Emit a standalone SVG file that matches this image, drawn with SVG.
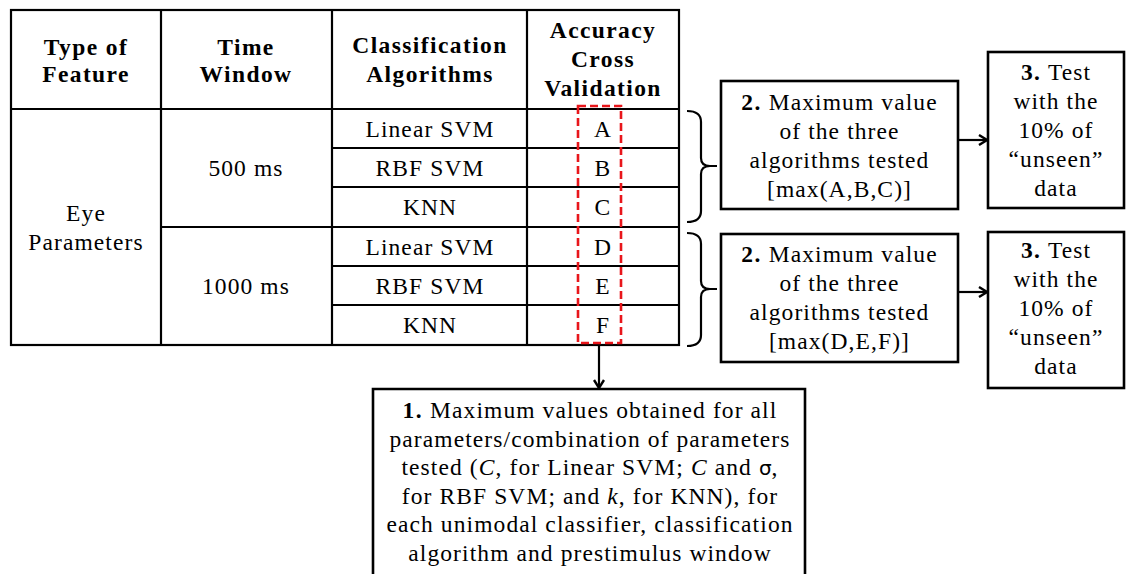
<svg xmlns="http://www.w3.org/2000/svg" width="1126" height="574" viewBox="0 0 1126 574">
<style>
text{font-family:'Liberation Serif','Times New Roman',serif;font-size:23.5px;fill:#000;text-anchor:middle;letter-spacing:1.1px}
.b{font-weight:bold;letter-spacing:1.4px}
.g{stroke:#000;stroke-width:2.2;fill:none}
.box{stroke:#000;stroke-width:2.6;fill:#fff}
.red{stroke:#e8161b;stroke-width:2.6;fill:none;stroke-dasharray:8,4}
.i{font-style:italic}
.s{font-family:'DejaVu Sans',sans-serif;font-size:20px;letter-spacing:0}
</style>
<defs>
<marker id="ah" markerWidth="12" markerHeight="12" refX="10" refY="6" orient="auto" markerUnits="userSpaceOnUse">
<path d="M2,1 L10,6 L2,11" stroke="#000" stroke-width="2.4" fill="none"/>
</marker>
</defs>
<rect width="1126" height="574" fill="#fff"/>
<g id="table">
<rect x="11" y="10" width="668" height="335" class="g"/>
<line x1="161" y1="10" x2="161" y2="345" class="g"/>
<line x1="332" y1="10" x2="332" y2="345" class="g"/>
<line x1="527" y1="10" x2="527" y2="345" class="g"/>
<line x1="11" y1="109" x2="679" y2="109" class="g"/>
<line x1="161" y1="227" x2="679" y2="227" class="g"/>
<line x1="332" y1="148" x2="679" y2="148" class="g"/>
<line x1="332" y1="187" x2="679" y2="187" class="g"/>
<line x1="332" y1="266" x2="679" y2="266" class="g"/>
<line x1="332" y1="305" x2="679" y2="305" class="g"/>
<text class="b" x="86" y="55">Type of</text>
<text class="b" x="86" y="82">Feature</text>
<text class="b" x="246" y="55">Time</text>
<text class="b" x="246" y="82">Window</text>
<text class="b" x="430" y="53">Classification</text>
<text class="b" x="430" y="82">Algorithms</text>
<text class="b" x="603" y="38">Accuracy</text>
<text class="b" x="603" y="67">Cross</text>
<text class="b" x="603" y="96">Validation</text>
<text x="86" y="221">Eye</text>
<text x="86" y="250">Parameters</text>
<text x="246" y="176">500 ms</text>
<text x="246" y="294">1000 ms</text>
<text x="430" y="137">Linear SVM</text>
<text x="430" y="176">RBF SVM</text>
<text x="430" y="215">KNN</text>
<text x="430" y="255">Linear SVM</text>
<text x="430" y="294">RBF SVM</text>
<text x="430" y="333">KNN</text>
<text x="603" y="137">A</text>
<text x="603" y="176">B</text>
<text x="603" y="215">C</text>
<text x="603" y="255">D</text>
<text x="603" y="294">E</text>
<text x="603" y="333">F</text>
</g>
<g id="highlight">
<rect x="578" y="106" width="43" height="237" class="red"/>
</g>
<g id="braces">
<path class="g" stroke-width="2.6" d="M687,111 Q701,111 701,122 L701,158 Q701,166 710,166 L717,166 M710,166 Q701,166 701,174 L701,211 Q701,222 687,222"/>
<path class="g" stroke-width="2.6" d="M687,233 Q701,233 701,244 L701,281 Q701,289 710,289 L717,289 M710,289 Q701,289 701,297 L701,335 Q701,346 687,346"/>
</g>
<g id="box2a">
<rect x="721" y="81" width="237" height="128" class="box"/>
<text x="839.5" y="110"><tspan class="b">2.</tspan> Maximum value</text>
<text x="839.5" y="139">of the three</text>
<text x="839.5" y="168">algorithms tested</text>
<text x="839.5" y="197">[max(A,B,C)]</text>
</g>
<g id="box3a">
<rect x="988" y="52" width="136" height="156" class="box"/>
<text x="1056" y="80"><tspan class="b">3.</tspan> Test</text>
<text x="1056" y="109">with the</text>
<text x="1056" y="138">10% of</text>
<text x="1056" y="167">“unseen”</text>
<text x="1056" y="196">data</text>
</g>
<g id="box2b">
<rect x="721" y="234" width="237" height="128" class="box"/>
<text x="839.5" y="262"><tspan class="b">2.</tspan> Maximum value</text>
<text x="839.5" y="291">of the three</text>
<text x="839.5" y="320">algorithms tested</text>
<text x="839.5" y="349">[max(D,E,F)]</text>
</g>
<g id="box3b">
<rect x="988" y="232" width="136" height="156" class="box"/>
<text x="1056" y="258"><tspan class="b">3.</tspan> Test</text>
<text x="1056" y="287">with the</text>
<text x="1056" y="316">10% of</text>
<text x="1056" y="345">“unseen”</text>
<text x="1056" y="374">data</text>
</g>
<g id="box1">
<path d="M373,576 L373,389 L805,389 L805,576" class="box"/>
<text x="590" y="418"><tspan class="b">1.</tspan> Maximum values obtained for all</text>
<text x="590" y="447">parameters/combination of parameters</text>
<text x="590" y="475">tested (<tspan class="i">C</tspan>, for Linear SVM; <tspan class="i">C</tspan> and <tspan class="s">σ</tspan>,</text>
<text x="590" y="504">for RBF SVM; and <tspan class="i">k</tspan>, for KNN), for</text>
<text x="590" y="532">each unimodal classifier, classification</text>
<text x="590" y="561">algorithm and prestimulus window</text>
</g>
<g id="connectors">
<line x1="958" y1="140" x2="987" y2="140" class="g" stroke-width="2.4" marker-end="url(#ah)"/>
<line x1="958" y1="292" x2="987" y2="292" class="g" stroke-width="2.4" marker-end="url(#ah)"/>
<line x1="599" y1="345" x2="599" y2="388" class="g" stroke-width="2.4" marker-end="url(#ah)"/>
</g>
</svg>
